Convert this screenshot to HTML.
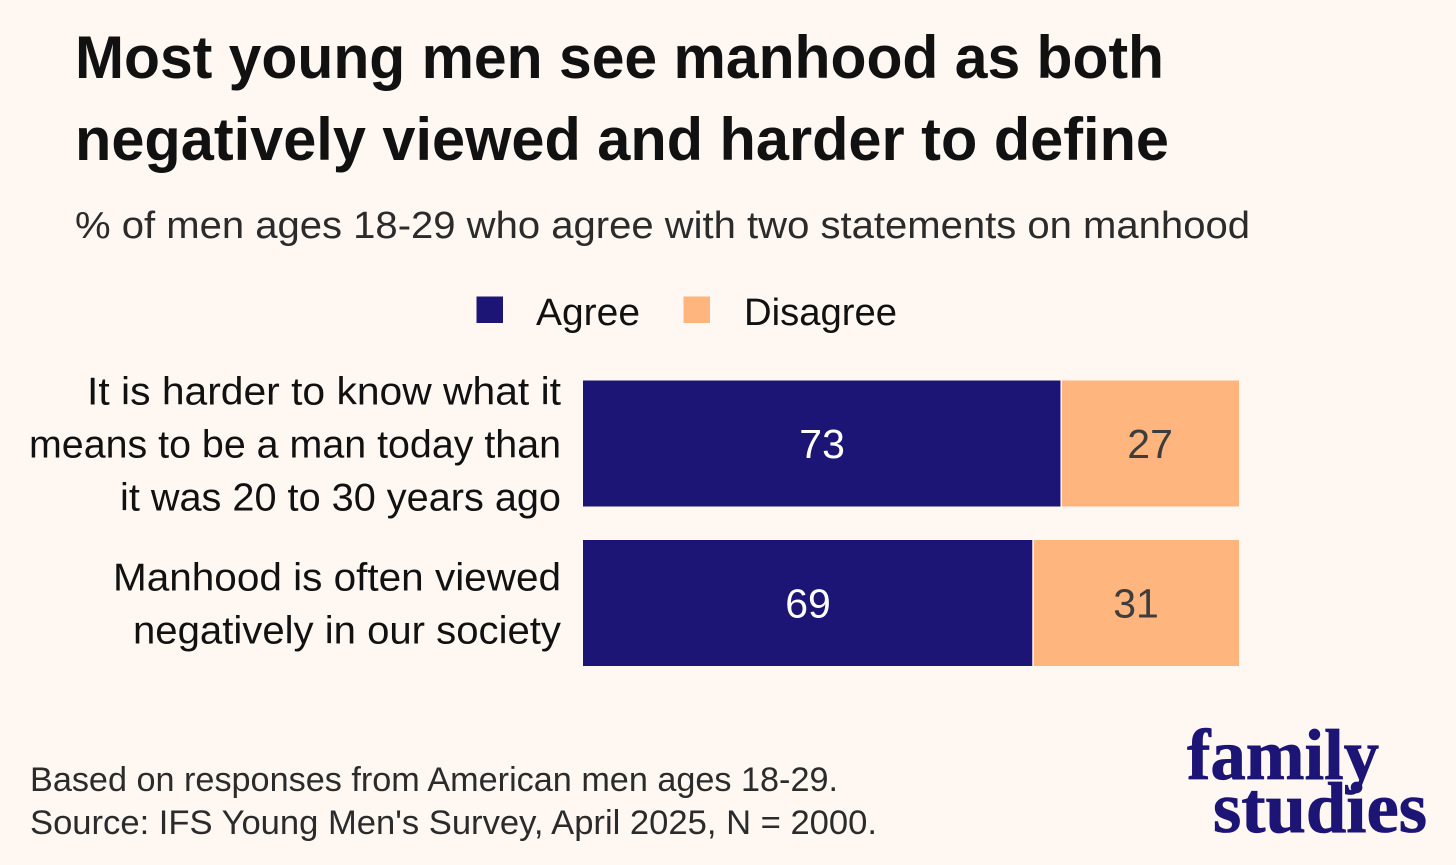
<!DOCTYPE html>
<html lang="en">
<head>
<meta charset="utf-8">
<title>Most young men see manhood as both negatively viewed and harder to define</title>
<style>
html,body{margin:0;padding:0;background:#fff7f2;}
svg{display:block;}
text{font-family:"Liberation Sans",sans-serif;}
.logo{font-family:"Liberation Serif",serif;font-weight:700;fill:#1c1575;stroke:#1c1575;stroke-width:0.8;}
</style>
</head>
<body>
<svg id="chart" xmlns="http://www.w3.org/2000/svg" width="1456" height="865" viewBox="0 0 1456 865">
  <rect x="0" y="0" width="1456" height="865" fill="#fff7f2"/>
  <text x="75" y="78" font-size="60" font-weight="700" fill="#111111" textLength="1089" lengthAdjust="spacingAndGlyphs">Most young men see manhood as both</text>
  <text x="75" y="160" font-size="60" font-weight="700" fill="#111111" textLength="1094" lengthAdjust="spacingAndGlyphs">negatively viewed and harder to define</text>
  <text x="75" y="238" font-size="38" fill="#2b2b2b" textLength="1175" lengthAdjust="spacingAndGlyphs">% of men ages 18-29 who agree with two statements on manhood</text>

  <rect x="476.5" y="296.5" width="26.5" height="26.5" fill="#1c1575"/>
  <text x="536" y="325" font-size="38" fill="#111111" textLength="104" lengthAdjust="spacingAndGlyphs">Agree</text>
  <rect x="683.5" y="296.5" width="26.5" height="26.5" fill="#ffb57d"/>
  <text x="744" y="325" font-size="38" fill="#111111" textLength="153" lengthAdjust="spacingAndGlyphs">Disagree</text>

  <g id="plot"></g>

  <text x="30" y="791" font-size="34" fill="#2b2b2b" textLength="808" lengthAdjust="spacingAndGlyphs">Based on responses from American men ages 18-29.</text>
  <text x="30" y="834" font-size="34" fill="#2b2b2b" textLength="847" lengthAdjust="spacingAndGlyphs">Source: IFS Young Men's Survey, April 2025, N = 2000.</text>

  <text class="logo" x="1187" y="779" font-size="72" textLength="192" lengthAdjust="spacingAndGlyphs">family</text>
  <text class="logo" x="1213" y="832" font-size="72" textLength="214" lengthAdjust="spacingAndGlyphs">studies</text>
</svg>
<script>
const categoryLines = [
  ["It is harder to know what it", "means to be a man today than", "it was 20 to 30 years ago"],
  ["Manhood is often viewed", "negatively in our society"]
];
const agreeValues = [72.9, 68.6];
const disagreeValues = [27.1, 31.4];

const lineFit = {
  "It is harder to know what it": 474,
  "means to be a man today than": 532,
  "it was 20 to 30 years ago": 441,
  "Manhood is often viewed": 448,
  "negatively in our society": 428
};

const SVG_NS = "http://www.w3.org/2000/svg";
const plot = document.getElementById("plot");
const plotLeft = 583;
const plotRight = 1239;
const firstBarTop = 380.5;
const barHeight = 126;
const barStep = 159.5;
const lineStep = 53;

function xScale(value) {
  return plotLeft + (value / 100) * (plotRight - plotLeft);
}
function yScale(index) {
  return firstBarTop + index * barStep;
}
function makeRect(x, y, w, h, fill) {
  const r = document.createElementNS(SVG_NS, "rect");
  r.setAttribute("x", x);
  r.setAttribute("y", y);
  r.setAttribute("width", w);
  r.setAttribute("height", h);
  r.setAttribute("fill", fill);
  return r;
}
function makeText(content, x, y, size, fill, anchor) {
  const t = document.createElementNS(SVG_NS, "text");
  t.textContent = content;
  t.setAttribute("x", x);
  t.setAttribute("y", y);
  t.setAttribute("font-size", size);
  t.setAttribute("fill", fill);
  t.setAttribute("text-anchor", anchor);
  return t;
}

categoryLines.forEach(function (lines, i) {
  const top = yScale(i);
  const mid = top + barHeight / 2;
  const agreeEnd = xScale(agreeValues[i]);
  const disagreeEnd = xScale(agreeValues[i] + disagreeValues[i]);

  const agreeBar = makeRect(plotLeft, top, agreeEnd - plotLeft - 0.75, barHeight, "#1c1575");
  
  
  plot.appendChild(agreeBar);

  const disagreeBar = makeRect(agreeEnd + 0.75, top, disagreeEnd - agreeEnd - 0.75, barHeight, "#ffb57d");
  
  
  plot.appendChild(disagreeBar);

  const agreeLabel = makeText(String(Math.round(agreeValues[i])), (plotLeft + agreeEnd) / 2, mid + 14.5, 41, "#ffffff", "middle");
  
  
  plot.appendChild(agreeLabel);

  const disagreeLabel = makeText(String(Math.round(disagreeValues[i])), (agreeEnd + disagreeEnd) / 2, mid + 14.5, 41, "#3d3d3d", "middle");
  
  
  plot.appendChild(disagreeLabel);

  const firstBaseline = mid + 14 - ((lines.length - 1) / 2) * lineStep;
  lines.forEach(function (line, j) {
    const label = makeText(line, 561, firstBaseline + j * lineStep, 39, "#111111", "end");
    label.setAttribute("textLength", lineFit[line]);
    label.setAttribute("lengthAdjust", "spacingAndGlyphs");
    
    
    plot.appendChild(label);
  });
});
</script>
</body>
</html>
